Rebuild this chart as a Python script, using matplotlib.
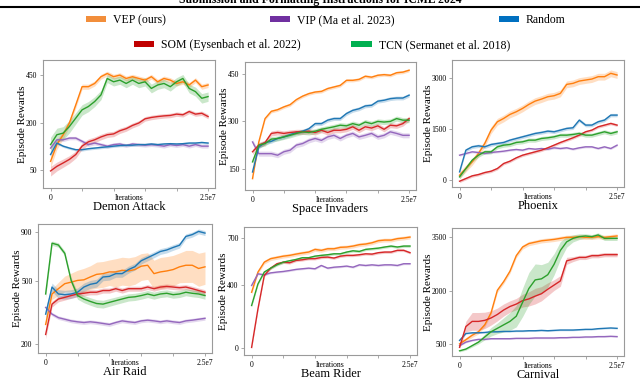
import numpy as np
import matplotlib.pyplot as plt
from matplotlib.patches import Patch
from matplotlib.lines import Line2D

plt.rcParams['font.family'] = ['Liberation Serif', 'DejaVu Serif']

# x axis: one value every 1e6 iterations
iters = np.arange(26) * 1e6

methods = ['VEP', 'VIP', 'Random', 'SOM', 'TCN']
legend_labels = ['VEP (ours)', 'VIP (Ma et al. 2023)', 'Random',
                 'SOM (Eysenbach et al. 2022)', 'TCN (Sermanet et al. 2018)']
line_colors = {'VEP': '#ff7f0e', 'VIP': '#9467bd', 'Random': '#1f77b4',
               'SOM': '#d62728', 'TCN': '#2ca02c'}
legend_colors = ['#f28e3b', '#7030a0', '#0070c0', '#c00000', '#00b050']

# Demon Attack
demon_vep = [71, 119, 153, 200, 282, 380, 380, 399, 440, 460, 440, 450, 429, 440, 429, 419, 440, 409, 429, 419, 399, 409, 390, 419, 380, 390]
demon_vip = [108, 135, 135, 141, 141, 130, 119, 124, 119, 114, 119, 121, 116, 121, 119, 117, 119, 117, 114, 119, 116, 119, 114, 119, 114, 114]
demon_random = [89, 124, 114, 108, 103, 103, 106, 108, 110, 112, 114, 116, 117, 117, 119, 119, 121, 119, 121, 122, 121, 122, 124, 124, 126, 124]
demon_som = [49, 59, 67, 76, 89, 114, 128, 135, 145, 153, 156, 168, 176, 189, 199, 217, 223, 227, 230, 232, 238, 235, 250, 238, 242, 227]
demon_tcn = [119, 153, 159, 185, 220, 258, 274, 299, 334, 429, 409, 419, 399, 419, 399, 409, 370, 390, 399, 380, 409, 429, 370, 352, 316, 325]

# Space Invaders
space_vep = [118, 234, 308, 331, 336, 345, 352, 368, 379, 387, 392, 394, 403, 408, 413, 429, 429, 432, 442, 439, 445, 447, 445, 453, 455, 461]
space_vip = [234, 197, 197, 197, 192, 203, 208, 224, 229, 239, 245, 239, 250, 255, 245, 255, 261, 250, 255, 261, 250, 255, 266, 261, 255, 255]
space_random = [139, 218, 232, 236, 245, 250, 257, 264, 268, 276, 292, 292, 303, 308, 308, 324, 334, 339, 348, 350, 363, 366, 371, 373, 373, 382]
space_som = [203, 224, 232, 261, 264, 261, 264, 266, 266, 268, 264, 271, 264, 271, 271, 274, 282, 271, 282, 278, 285, 274, 287, 285, 292, 308]
space_tcn = [171, 224, 229, 243, 245, 250, 255, 261, 266, 264, 268, 274, 278, 282, 287, 285, 292, 287, 297, 292, 299, 297, 299, 308, 303, 303]

# Phoenix
phoenix_vep = [147, 344, 541, 787, 1082, 1475, 1721, 1819, 1937, 2016, 2114, 2232, 2330, 2389, 2458, 2488, 2557, 2822, 2852, 2920, 2950, 2979, 3048, 3048, 3147, 3098]
phoenix_vip = [737, 787, 836, 816, 787, 816, 836, 855, 885, 905, 885, 934, 914, 934, 914, 954, 934, 954, 914, 954, 983, 983, 934, 983, 934, 1032]
phoenix_random = [246, 885, 983, 1013, 983, 1052, 1082, 1111, 1180, 1229, 1278, 1327, 1377, 1406, 1445, 1426, 1475, 1524, 1544, 1770, 1623, 1623, 1721, 1770, 1917, 1917]
phoenix_som = [-30, 49, 128, 167, 226, 265, 344, 492, 560, 659, 737, 787, 836, 885, 954, 1032, 1111, 1180, 1249, 1327, 1426, 1475, 1573, 1622, 1672, 1622]
phoenix_tcn = [98, 344, 590, 737, 836, 836, 983, 1032, 1052, 1111, 1131, 1180, 1180, 1229, 1249, 1278, 1327, 1327, 1347, 1377, 1327, 1327, 1377, 1426, 1377, 1426]

# Air Raid
air_vep = [272, 421, 452, 483, 493, 504, 508, 527, 545, 550, 562, 562, 574, 569, 579, 604, 611, 550, 562, 569, 579, 599, 611, 611, 587, 599]
air_vep_std = [10, 30, 40, 50, 60, 70, 80, 80, 90, 90, 90, 100, 100, 100, 100, 100, 100, 100, 110, 110, 110, 110, 120, 120, 120, 120]
air_vip = [349, 317, 301, 294, 287, 283, 280, 283, 280, 276, 272, 280, 287, 283, 280, 287, 290, 287, 283, 287, 283, 280, 287, 290, 294, 298]
air_random = [317, 462, 421, 417, 421, 431, 462, 479, 487, 527, 531, 550, 550, 579, 600, 646, 670, 695, 722, 735, 757, 777, 860, 878, 910, 893]
air_som = [233, 366, 393, 402, 412, 421, 425, 431, 431, 441, 441, 452, 441, 452, 452, 452, 462, 452, 462, 466, 462, 458, 462, 452, 441, 431]
air_tcn = [421, 796, 779, 706, 504, 412, 393, 380, 369, 366, 375, 384, 393, 402, 405, 412, 421, 412, 421, 425, 417, 421, 431, 425, 421, 412]

# Beam Rider (no Random curve)
beam_vep = [356, 484, 547, 569, 577, 585, 590, 598, 605, 611, 628, 622, 632, 632, 641, 643, 649, 658, 662, 670, 683, 687, 687, 696, 700, 706]
beam_vip = [399, 473, 467, 479, 484, 488, 494, 501, 505, 509, 505, 526, 509, 515, 518, 522, 515, 530, 526, 530, 526, 530, 530, 526, 537, 537]
beam_som = [6, 250, 462, 509, 537, 547, 543, 558, 562, 569, 569, 577, 579, 573, 585, 590, 590, 594, 600, 598, 607, 611, 611, 622, 622, 607]
beam_tcn = [272, 409, 484, 509, 530, 547, 556, 564, 575, 575, 585, 590, 594, 600, 600, 611, 619, 615, 628, 632, 636, 643, 649, 643, 649, 649]

# Carnival
carn_vep = [500, 617, 743, 841, 1036, 1376, 2009, 2253, 2545, 2983, 3226, 3324, 3363, 3402, 3421, 3441, 3470, 3499, 3499, 3518, 3499, 3499, 3518, 3499, 3518, 3538]
carn_vip = [451, 549, 597, 627, 627, 646, 646, 646, 646, 656, 656, 656, 666, 666, 666, 666, 675, 675, 685, 685, 695, 695, 705, 705, 714, 705]
carn_random = [597, 792, 812, 812, 822, 841, 841, 851, 851, 861, 861, 870, 870, 880, 870, 880, 890, 890, 890, 899, 909, 909, 928, 938, 948, 938]
carn_som = [403, 987, 1133, 1133, 1162, 1230, 1328, 1454, 1552, 1620, 1717, 1766, 1844, 1912, 2038, 2155, 2272, 2837, 2886, 2934, 2934, 2983, 2983, 3012, 3012, 3012]
carn_som_std = [30, 150, 250, 250, 230, 200, 180, 170, 160, 160, 180, 200, 220, 200, 180, 150, 150, 100, 70, 60, 60, 60, 60, 60, 60, 60]
carn_tcn = [305, 354, 451, 549, 695, 841, 938, 1036, 1133, 1279, 1668, 2058, 2301, 2331, 2447, 2740, 3129, 3372, 3470, 3518, 3538, 3518, 3567, 3470, 3470, 3470]
carn_tcn_std = [30, 30, 40, 50, 80, 120, 150, 200, 250, 300, 400, 450, 450, 400, 350, 300, 250, 150, 100, 80, 60, 60, 60, 60, 60, 60]

sqrt_scale = (np.sqrt, np.square)
quart_scale = (lambda v: np.power(np.clip(v, 0, None), 0.25), lambda v: np.power(v, 4))

panels = [
    dict(title='Demon Attack', box=(43, 215, 60, 188), scale=sqrt_scale, ylim=(20, 550), yticks=[50, 200, 450],
         data={'VEP': demon_vep, 'VIP': demon_vip, 'Random': demon_random, 'SOM': demon_som, 'TCN': demon_tcn},
         std={'VEP': 15, 'VIP': 6, 'Random': 4, 'SOM': 10, 'TCN': 25}),
    dict(title='Space Invaders', box=(245, 416, 62, 190), scale=None, ylim=(82, 487), yticks=[150, 300, 450],
         data={'VEP': space_vep, 'VIP': space_vip, 'Random': space_random, 'SOM': space_som, 'TCN': space_tcn},
         std={'VEP': 5, 'VIP': 8, 'Random': 6, 'SOM': 8, 'TCN': 8}),
    dict(title='Phoenix', box=(452, 624, 60, 187), scale=None, ylim=(-200, 3540), yticks=[0, 1500, 3000],
         data={'VEP': phoenix_vep, 'VIP': phoenix_vip, 'Random': phoenix_random, 'SOM': phoenix_som, 'TCN': phoenix_tcn},
         std={'VEP': 100, 'VIP': 30, 'Random': 50, 'SOM': 40, 'TCN': 60}),
    dict(title='Air Raid', box=(38, 212, 224, 353), scale=quart_scale, ylim=(172, 988), yticks=[200, 500, 900],
         data={'VEP': air_vep, 'VIP': air_vip, 'Random': air_random, 'SOM': air_som, 'TCN': air_tcn},
         std={'VEP': air_vep_std, 'VIP': 8, 'Random': 25, 'SOM': 15, 'TCN': 20}),
    dict(title='Beam Rider', box=(244, 417, 227, 355), scale=None, ylim=(-42, 770), yticks=[0, 400, 700],
         data={'VEP': beam_vep, 'VIP': beam_vip, 'SOM': beam_som, 'TCN': beam_tcn},
         std={'VEP': 12, 'VIP': 6, 'SOM': 8, 'TCN': 8}),
    dict(title='Carnival', box=(452, 624, 228, 356), scale=None, ylim=(159, 3762), yticks=[500, 2000, 3500],
         data={'VEP': carn_vep, 'VIP': carn_vip, 'Random': carn_random, 'SOM': carn_som, 'TCN': carn_tcn},
         std={'VEP': 60, 'VIP': 20, 'Random': 20, 'SOM': carn_som_std, 'TCN': carn_tcn_std}),
]

W, H = 640, 380
fig = plt.figure(figsize=(W / 100, H / 100), dpi=100)
spine_grey = '#9a9a9a'

for p in panels:
    L, R, T, B = p['box']
    ax = fig.add_axes([L / W, 1 - B / H, (R - L) / W, (B - T) / H])
    if p['scale'] is not None:
        ax.set_yscale('function', functions=p['scale'])
    for m in methods:
        if m not in p['data']:
            continue
        y = np.array(p['data'][m], dtype=float)
        s = np.broadcast_to(np.array(p['std'][m], dtype=float), y.shape)
        c = line_colors[m]
        ax.fill_between(iters, y - s, y + s, color=c, alpha=0.25, lw=0)
        ax.plot(iters, y, color=c, lw=1.0)
    ax.set_xlim(-1.2e6, 2.61e7)
    ax.set_ylim(*p['ylim'])
    ax.set_xticks(np.arange(6) * 5e6)
    ax.set_xticklabels(['0', '', '', '', '', '2.5e7'])
    ax.set_yticks(p['yticks'])
    ax.set_yticklabels([str(v) for v in p['yticks']])
    ax.minorticks_off()
    ax.tick_params(labelsize=5.5, length=2.5, width=0.6, color=spine_grey, pad=1.5)
    for sp in ax.spines.values():
        sp.set_color(spine_grey)
        sp.set_linewidth(0.8)
    ax.set_ylabel('Episode Rewards', fontsize=8, labelpad=-1)
    ax.annotate('Iterations', xy=(0.5, 0), xycoords='axes fraction', xytext=(0, -4.0),
                textcoords='offset points', ha='center', va='top', fontsize=5.5)
    ax.annotate(p['title'], xy=(0.5, 0), xycoords='axes fraction', xytext=(0, -13.5),
                textcoords='offset points', ha='center', va='center', fontsize=9)

# legend, two centred rows
handles = [Patch(facecolor=c, edgecolor='none', label=l) for c, l in zip(legend_colors, legend_labels)]
common = dict(loc='center', frameon=False, fontsize=8.5, handlelength=1.7,
              handleheight=0.45, handletextpad=0.6, borderpad=0)
fig.legend(handles=handles[:3], ncol=3, columnspacing=8.8, bbox_to_anchor=(0.509, 1 - 20 / H), **common)
fig.legend(handles=handles[3:], ncol=2, columnspacing=4.3, bbox_to_anchor=(0.503, 1 - 45 / H), **common)

# page header cut off at the top
fig.text(0.5, 1 - 3 / H, 'Submission and Formatting Instructions for ICML 2024', ha='center', va='baseline',
         fontsize=8.5, fontweight='bold')
fig.add_artist(Line2D([0, 1], [1 - 6.5 / H] * 2, color='black', lw=1.5))

fig.savefig('out.png', dpi=100)
